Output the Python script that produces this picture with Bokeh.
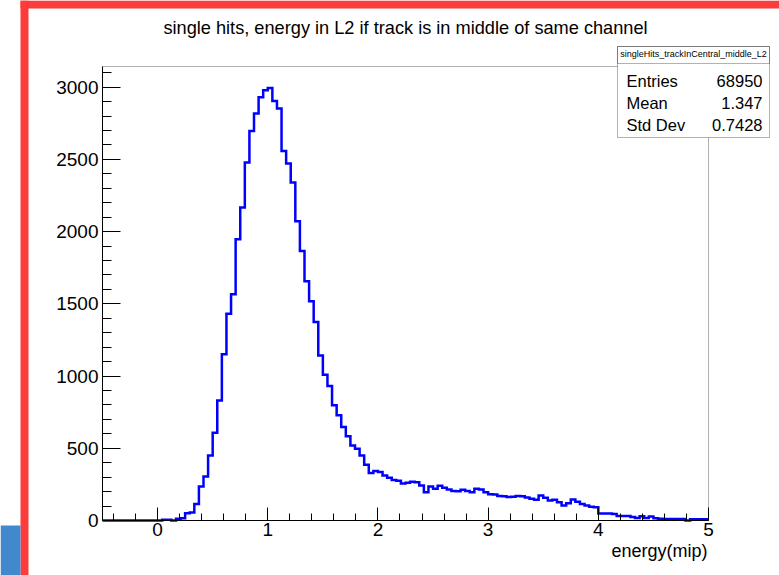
import numpy as np
from bokeh.plotting import figure
from bokeh.models import FixedTicker, Label, BoxAnnotation, Range1d
from bokeh.embed import file_html
from bokeh.resources import INLINE

# ---------------- data ----------------
TITLE = "single hits, energy in L2 if track is in middle of same channel"
HIST_NAME = "singleHits_trackInCentral_middle_L2"
X_LABEL = "energy(mip)"
XMIN, XMAX, NBINS = -0.5, 5.0, 132

counts = [
    0, 0, 0, 0, 0, 0, 0, 0, 0, 0, 0, 0, 0,
    5, 5, 0, 12, 16,
    50, 56, 115, 235, 305, 450, 607, 831, 1150, 1432, 1566, 1947, 2167, 2478,
    2697, 2818, 2929, 2979, 2993,
    2903, 2852, 2557, 2471, 2339, 2072, 1866, 1656, 1517, 1374, 1143, 1009,
    931, 797, 728, 647, 584, 520, 497, 450, 386,
    328, 342, 335, 312, 296, 280, 275, 256, 262, 268, 264, 242, 196, 235,
    219, 240, 226, 215, 205, 203, 212, 205, 196, 219, 215, 196, 182, 180,
    169, 167, 162, 165, 169, 167, 160, 150, 143, 173, 157, 139, 143, 127,
    104, 120, 145, 130, 115, 104, 95, 92,
    48, 48, 48, 45, 32, 32, 32, 25, 18, 30, 18, 27, 15, 12, 11, 11, 11, 11,
    11, 0, 9, 9, 9, 9,
]

stats_labels = ["Entries", "Mean", "Std Dev"]
stats_values = ["68950", "1.347", "0.7428"]

x_ticks = [0, 1, 2, 3, 4, 5]
y_ticks = [0, 500, 1000, 1500, 2000, 2500, 3000]

# ---------------- layout (page pixels) ----------------
W, H = 779, 575
FL, FR, FT, FB = 102, 708, 66, 520   # ROOT frame position on the page
FONT = "Liberation Sans"
DY = 6   # correction for Bokeh's alphabetic text placement

ymax = 1.05 * max(counts)


def X(px):
    return XMIN + (px - FL) * (XMAX - XMIN) / (FR - FL)


def Y(py):
    return (FB - py) * ymax / (FB - FT)


p = figure(width=W, height=H,
           x_range=Range1d(X(0), X(W)), y_range=Range1d(Y(H), Y(0)),
           output_backend="svg", toolbar_location=None,
           min_border=0, min_border_left=0, min_border_right=0,
           min_border_top=0, min_border_bottom=0,
           styles={"position": "absolute", "left": "0px", "top": "0px"})

p.background_fill_color = "white"
p.border_fill_color = "white"
p.outline_line_color = None
p.xgrid.visible = False
p.ygrid.visible = False

# axes (ROOT style: ticks inside, drawn at the histogram frame)
p.xaxis.fixed_location = 0
p.xaxis.bounds = (XMIN, XMAX)
p.yaxis.fixed_location = XMIN
p.yaxis.bounds = (0, ymax)
p.xaxis.ticker = FixedTicker(ticks=x_ticks,
                             minor_ticks=[round(v, 2) for v in np.arange(-0.4, 5.0, 0.2)])
p.yaxis.ticker = FixedTicker(ticks=y_ticks, minor_ticks=list(range(100, 3200, 100)))
for ax, mj, mn, so in ((p.xaxis, 13, 7, 2), (p.yaxis, 18, 9, 4)):
    ax.major_tick_in = mj
    ax.major_tick_out = 0
    ax.minor_tick_in = mn
    ax.minor_tick_out = 0
    ax.axis_line_color = "black"
    ax.major_tick_line_color = "black"
    ax.minor_tick_line_color = "black"
    ax.major_label_text_font = FONT
    ax.major_label_text_font_size = "19px"
    ax.major_label_text_color = "black"
    ax.major_label_standoff = so

# frame box
p.add_layout(BoxAnnotation(left=XMIN, right=XMAX, bottom=0, top=ymax,
                           fill_alpha=0.0, line_color="black", line_width=1))

# histogram outline
edges = np.linspace(XMIN, XMAX, NBINS + 1)
xs = np.repeat(edges, 2)[1:-1]
ys = np.repeat(np.array(counts, dtype=float), 2)
p.line(xs, ys, line_color="#0000ff", line_width=2.5, line_join="miter")

# title and axis label
p.add_layout(Label(x=X(405), y=Y(33 - DY), text=TITLE, text_align="center",
                   text_baseline="alphabetic", text_font=FONT,
                   text_font_size="18.2px", text_color="black"))
p.add_layout(Label(x=X(707), y=Y(556.5 - DY), text=X_LABEL, text_align="right",
                   text_baseline="alphabetic", text_font=FONT,
                   text_font_size="18px", text_color="black"))

# stats box
BL, BR, BT, BH, BB = 617, 769, 46, 63, 137
p.add_layout(BoxAnnotation(left=X(BL), right=X(BR), top=Y(BT), bottom=Y(BB),
                           fill_color="white", fill_alpha=1.0,
                           line_color="black", line_width=1, level="overlay"))
p.add_layout(BoxAnnotation(left=X(BL), right=X(BR), top=Y(BT), bottom=Y(BH),
                           fill_alpha=0.0, line_color="black", line_width=1,
                           level="overlay"))
p.add_layout(Label(x=X((BL + BR) / 2), y=Y((BT + BH) / 2 - 1), text=HIST_NAME,
                   text_align="center", text_baseline="middle",
                   text_font=FONT, text_font_size="9px",
                   text_color="black", level="overlay"))
for lab, val, base in zip(stats_labels, stats_values, (86.2, 108.2, 130.2)):
    p.add_layout(Label(x=X(626), y=Y(base - DY), text=lab, text_align="left",
                       text_baseline="alphabetic", text_font=FONT,
                       text_font_size="16.5px", text_color="black", level="overlay"))
    p.add_layout(Label(x=X(762), y=Y(base - DY), text=val, text_align="right",
                       text_baseline="alphabetic", text_font=FONT,
                       text_font_size="16.5px", text_color="black", level="overlay"))

# surrounding screenshot frame
RED = "#fd3b3b"
p.add_layout(BoxAnnotation(left=X(20), right=X(W), top=Y(0), bottom=Y(8),
                           fill_color=RED, fill_alpha=1.0, line_alpha=0.0, level="overlay"))
p.add_layout(BoxAnnotation(left=X(20), right=X(28), top=Y(0), bottom=Y(H),
                           fill_color=RED, fill_alpha=1.0, line_alpha=0.0, level="overlay"))
p.add_layout(BoxAnnotation(left=X(0), right=X(20), top=Y(525), bottom=Y(H),
                           fill_color="#4288cc", fill_alpha=1.0, line_alpha=0.0, level="overlay"))

open("out.html", "w").write(file_html(p, INLINE))
